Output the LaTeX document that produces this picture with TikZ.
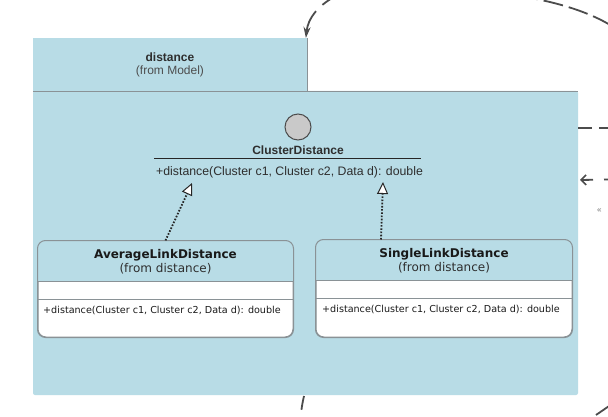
\documentclass[tikz,border=0pt]{standalone}
\usepackage{fontspec}
\setmainfont{Liberation Sans}
\newfontfamily\verd{DejaVu Sans}
\usetikzlibrary{arrows.meta}
\definecolor{pkgblue}{HTML}{B8DCE6}
\definecolor{edgegray}{HTML}{8A9296}
\definecolor{inkgray}{HTML}{4C4C4C}
\definecolor{txt}{HTML}{2E2E2E}
\definecolor{circgray}{HTML}{C9C9C9}
\tikzset{
  pkgtitle/.style={font=\fontsize{12}{14}\selectfont\bfseries, text=txt, inner sep=0pt},
  pkgsub/.style={font=\fontsize{12}{14}\selectfont, text=txt!85, inner sep=0pt},
  clstitle/.style={font=\verd\fontsize{12}{14}\selectfont\bfseries, text=black!90, inner sep=0pt},
  clssub/.style={font=\verd\fontsize{12}{14}\selectfont, text=txt, inner sep=0pt},
  clsop/.style={font=\verd\fontsize{9.6}{11}\selectfont, text=black!90, inner sep=0pt, anchor=west},
  ifop/.style={font=\fontsize{12.3}{14}\selectfont, text=txt, inner sep=0pt, anchor=west},
  classbox/.style={draw=edgegray, fill=white, rounded corners=8pt, line width=1pt, inner sep=0pt},
  realize/.style={draw=black!85, line width=1.8pt, dash pattern=on 1.6pt off 1.6pt,
    -{Triangle[width=11pt,length=12pt,fill=white,line width=1pt]}},
  depline/.style={draw=inkgray, line width=1.8pt},
}
\begin{document}
\begin{tikzpicture}[x=1pt,y=-1pt]
\useasboundingbox (0,0) rectangle (608,417);
\fill[white] (0,0) rectangle (608,417);
% package
\node[fill=pkgblue, minimum width=274pt, minimum height=53pt, inner sep=0pt, anchor=north west] (tab) at (33,38) {};
\fill[pkgblue, rounded corners=2pt] (33,91) -- (33,395) -- (578,395) -- (578,91) -- cycle;
\node[minimum width=545pt, minimum height=304pt, inner sep=0pt, anchor=north west] (body) at (33,91) {};
\draw[edgegray, line width=0.8pt] (tab.north east) -- (tab.south east);
\draw[edgegray, line width=0.8pt] (body.north west) -- (body.north east);
\node[pkgtitle] (pname) at (170,57) {distance};
\node[pkgsub] (pfrom) at (170,71) {(from Model)};
% interface
\node[circle, draw=inkgray, fill=circgray, minimum size=26pt, line width=1pt, inner sep=0pt] (circ) at (298,127) {};
\node[pkgtitle] (cdname) at (298,150) {ClusterDistance};
\draw[black!85, line width=1pt] (154,159) -- (421,159);
\node[ifop] (cdop) at (156,172) {+distance(Cluster c1, Cluster c2, Data d): double};
\coordinate (ta) at (192,183);
\coordinate (tb) at (383,182);
% AverageLinkDistance
\node[classbox, minimum width=255pt, minimum height=96pt] (avg) at (165.5,289) {};
\begin{scope}
  \clip (38,241) rectangle (293,281);
  \fill[pkgblue, rounded corners=8pt] (avg.south west) rectangle (avg.north east);
\end{scope}
\draw[edgegray, line width=1pt] (38,281) -- (293,281);
\draw[edgegray, line width=1pt] (38,299) -- (293,299);
\draw[edgegray, rounded corners=8pt, line width=1pt] (avg.south west) rectangle (avg.north east);
\node[clstitle] (avgname) at (165.5,255) {AverageLinkDistance};
\node[clssub] (avgfrom) at (165.5,269) {(from distance)};
\node[clsop] (avgop) at (43,310) {+distance(Cluster c1, Cluster c2, Data d): double};
% SingleLinkDistance
\node[classbox, minimum width=256pt, minimum height=97pt] (single) at (444,288.5) {};
\begin{scope}
  \clip (316,240) rectangle (572,280);
  \fill[pkgblue, rounded corners=8pt] (single.south west) rectangle (single.north east);
\end{scope}
\draw[edgegray, line width=1pt] (316,280) -- (572,280);
\draw[edgegray, line width=1pt] (316,298) -- (572,298);
\draw[edgegray, rounded corners=8pt, line width=1pt] (single.south west) rectangle (single.north east);
\node[clstitle] (singlename) at (444,254) {SingleLinkDistance};
\node[clssub] (singlefrom) at (444,268) {(from distance)};
\node[clsop] (singleop) at (322,309) {+distance(Cluster c1, Cluster c2, Data d): double};
% realizations
\draw[realize] (avg.north) -- (ta);
\draw[realize] ([xshift=-63pt]single.north) -- (tb);
% outside dependency fragments
\coordinate (o1) at (334,-3);
\draw[depline, dash pattern=on 14pt off 9pt on 40pt off 0pt, -{Stealth[length=11pt,width=7pt]}] (o1) .. controls (318,6) and (308,18) .. ([xshift=-1.5pt]tab.north east);
\coordinate (o2) at (518,-4);
\coordinate (o3) at (618,30);
\draw[depline, dash pattern=on 20pt off 6pt] (o2) .. controls (560,2) and (595,14) .. (o3);
\coordinate (o4) at (610,128);
\draw[depline, dash pattern=on 14pt off 7pt] (body.north east |- 0,128) -- (o4);
\coordinate (o5) at (610,179.5);
\coordinate (o6) at (580,180);
\draw[depline, dash pattern=on 6pt off 11pt on 30pt off 1pt, -{Straight Barb[length=5pt,width=10pt,line width=1.6pt]}] (o5) -- (o6);
\node[font=\fontsize{8}{9}\selectfont, text=black!55, inner sep=0pt, anchor=west] (st) at (597,211) {<<};
\coordinate (o7) at (304,396);
\coordinate (o8) at (300,422);
\draw[depline, dash pattern=on 14pt off 10pt] (o7) .. controls (302,405) .. (o8);
\coordinate (o9) at (596,415);
\coordinate (o10) at (612,404);
\draw[depline] (o9) -- (o10);
\end{tikzpicture}
\end{document}
